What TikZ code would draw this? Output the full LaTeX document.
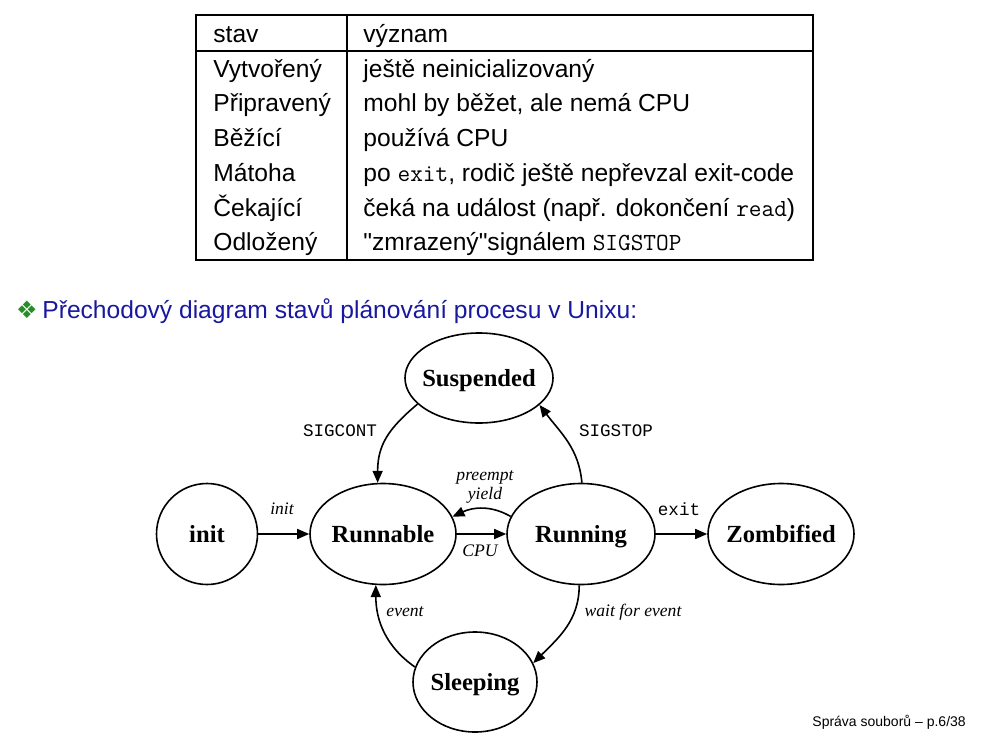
\documentclass[tikz,border=0pt]{standalone}
\usepackage{fontspec}
\setmainfont{Liberation Sans}[Ligatures=TeXOff]
\newfontfamily\tmsfont{Liberation Serif}
\newfontfamily\crfont{Liberation Mono}
\newfontfamily\dejafont{DejaVu Sans}
\usetikzlibrary{shapes.geometric,arrows.meta}
\definecolor{headblue}{RGB}{24,24,160}
\definecolor{bulletgreen}{RGB}{40,140,40}
\newcommand\ctr[1]{\makebox[0pt]{#1}}

\begin{document}
\begin{tikzpicture}[
  x=0.5pt,y=-0.5pt,
  >={Triangle[length=6pt,width=5pt]},
  txt/.style={anchor=base west,inner sep=0pt,font=\fontsize{12.3}{14}\selectfont},
  rule/.style={line width=1.2pt},
  state/.style={ellipse,draw,line width=.8pt,inner sep=0pt,minimum width=#1,minimum height=50.5pt,
    text height=8.2pt,text depth=0pt,font=\tmsfont\bfseries\fontsize{12.3}{14}\selectfont},
  trans/.style={->,line width=.8pt},
  lab/.style={inner sep=0pt,align=center,font=\tmsfont\itshape\fontsize{8.8}{9.5}\selectfont},
  sig/.style={inner sep=0pt,font=\crfont\fontsize{8.8}{10}\selectfont}
]
\useasboundingbox (0,0) rectangle (994,743);
% table of states
\coordinate (tabtl) at (196,15);
\coordinate (tabbr) at (813,260);
\draw[rule] (tabtl) rectangle (tabbr);
\draw[rule] (347,15) -- (347,260);
\draw[rule] (196,51) -- (813,51);
\foreach \st/\mean [count=\i from 0] in {stav/význam,
    Vytvořený/ještě neinicializovaný,
    Připravený/{mohl by běžet, ale nemá CPU},
    Běžící/používá CPU,
    Mátoha/{po \texttt{exit}, rodič ještě nepřevzal exit-code},
    Čekající/čeká na událost (např. dokončení \texttt{read}),
    Odložený/"zmrazený"signálem \texttt{SIGSTOP}} {
  \pgfmathsetmacro{\rowy}{42.5+34.7*\i}
  \node[txt] (st\i) at (213,\rowy) {\st};
  \node[txt] (mean\i) at (363,\rowy) {\mean};
}
\node[inner sep=0pt,text=bulletgreen,font=\dejafont\fontsize{12}{13}\selectfont] (bul) at (27,310) {❖};
\node[txt,text=headblue] (head) at (42,318) {Přechodový diagram stavů plánování procesu v Unixu:};
% state diagram
\node[state=50.5pt] (init) at (207,534) {\ctr{init}};
\node[state=73pt] (rnb) at (383,534) {\ctr{Runnable}};
\node[state=74pt] (rng) at (581,534) {\ctr{Running}};
\node[state=73pt] (zomb) at (781,534) {\ctr{Zombified}};
\node[state=74pt,minimum height=45pt] (susp) at (479,378) {\ctr{Suspended}};
\node[state=62pt,minimum height=50pt] (sleep) at (475,682) {\ctr{Sleeping}};
\draw[trans] (init) -- (rnb);
\draw[trans] (rnb) -- (rng);
\draw[trans] (rng) -- (zomb);
\draw[trans] (rng.166) to[out=150,in=25] (rnb.14);
\draw[trans] (susp.203) to[out=220,in=90,looseness=1.1] (rnb.96);
\draw[trans] (rng.89) to[out=95,in=307] (susp.336);
\draw[trans] (rng.268) to[out=270,in=45] (sleep.18);
\draw[trans] (sleep.166) to[out=145,in=270] (rnb.262);
\node[lab] (lbinit) at (282,509) {init};
\node[lab] (lbcpu) at (480,551) {CPU};
\node[lab] (lbpre) at (485,487) {preempt\\yield};
\node[sig] (lbexit) at (679,509) {exit};
\node[sig] (lbcont) at (340,431) {SIGCONT};
\node[sig] (lbstop) at (616,431) {SIGSTOP};
\node[lab] (lbwait) at (633,612) {wait for event};
\node[lab] (lbev) at (405,612) {event};
\node[anchor=base west,inner sep=0pt,font=\fontsize{7}{8}\selectfont] (foot) at (812,726) {Správa souborů – p.6/38};
\end{tikzpicture}
\end{document}
